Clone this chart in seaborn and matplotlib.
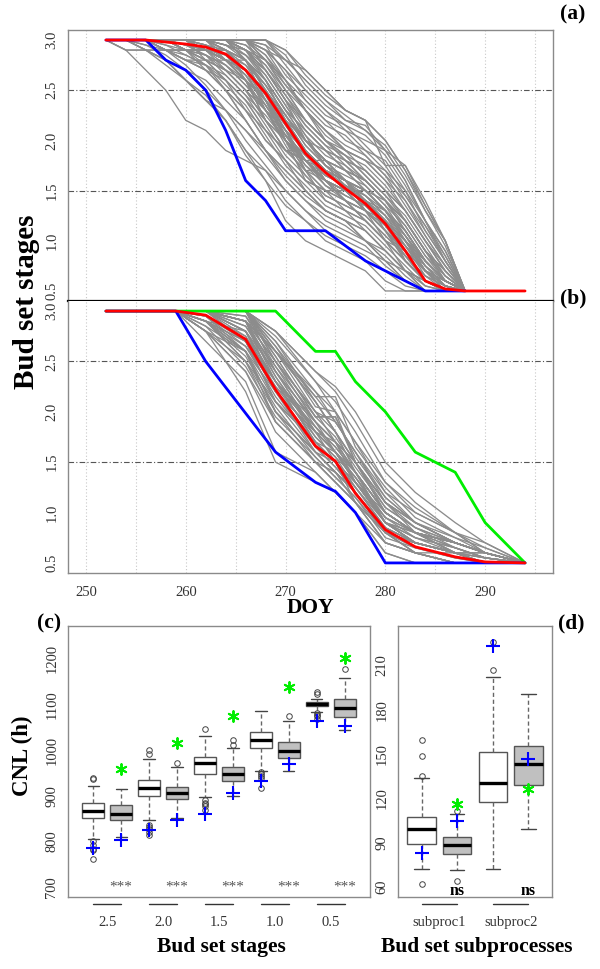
import numpy as np
import pandas as pd
import matplotlib
matplotlib.use("Agg")
import matplotlib.pyplot as plt
import matplotlib.transforms as mtransforms
import seaborn as sns

# ---------------- data: panel (a) ----------------
days_a = [252, 254, 256, 258, 260, 262, 264, 266, 268, 270, 272, 274, 276, 278, 280, 282, 284, 286, 288]
gray_a = [
    [3.0, 3.0, 3.0, 3.0, 3.0, 2.9, 2.8, 2.6, 2.3, 2.0, 1.8, 1.6, 1.5, 1.3, 1.1, 0.9, 0.7, 0.6, 0.5],
    [3.0, 3.0, 3.0, 3.0, 3.0, 3.0, 3.0, 2.9, 2.7, 2.4, 2.1, 1.9, 1.7, 1.6, 1.4, 1.1, 0.8, 0.6, 0.5],
    [3.0, 2.9, 2.9, 2.8, 2.7, 2.6, 2.4, 2.2, 1.9, 1.7, 1.5, 1.3, 1.2, 1.0, 0.8, 0.7, 0.6, 0.5, 0.5],
    [3.0, 3.0, 3.0, 3.0, 3.0, 3.0, 3.0, 3.0, 2.9, 2.6, 2.3, 2.0, 1.8, 1.7, 1.5, 1.3, 1.0, 0.7, 0.5],
    [3.0, 3.0, 3.0, 2.9, 2.8, 2.7, 2.5, 2.3, 2.0, 1.8, 1.6, 1.4, 1.3, 1.2, 1.0, 0.8, 0.6, 0.5, 0.5],
    [3.0, 3.0, 3.0, 3.0, 2.9, 2.9, 2.8, 2.7, 2.5, 2.2, 1.9, 1.7, 1.6, 1.4, 1.2, 0.9, 0.6, 0.5, 0.5],
    [3.0, 3.0, 3.0, 3.0, 3.0, 3.0, 3.0, 3.0, 3.0, 2.8, 2.6, 2.4, 2.2, 2.1, 1.9, 1.6, 1.2, 0.9, 0.5],
    [3.0, 3.0, 2.9, 2.8, 2.6, 2.4, 2.2, 1.9, 1.7, 1.4, 1.2, 1.0, 0.9, 0.8, 0.6, 0.5, 0.5, 0.5, 0.5],
    [3.0, 3.0, 3.0, 3.0, 3.0, 2.9, 2.9, 2.8, 2.6, 2.3, 2.0, 1.8, 1.7, 1.5, 1.3, 1.0, 0.7, 0.5, 0.5],
    [3.0, 3.0, 3.0, 3.0, 2.9, 2.8, 2.6, 2.4, 2.1, 1.8, 1.6, 1.5, 1.4, 1.2, 1.0, 0.8, 0.6, 0.5, 0.5],
    [3.0, 3.0, 3.0, 3.0, 3.0, 3.0, 3.0, 2.9, 2.8, 2.5, 2.2, 2.0, 1.9, 1.8, 1.7, 1.4, 1.1, 0.8, 0.5],
    [3.0, 3.0, 3.0, 3.0, 3.0, 3.0, 2.9, 2.7, 2.4, 2.1, 1.8, 1.7, 1.5, 1.3, 1.1, 0.8, 0.6, 0.5, 0.5],
    [3.0, 3.0, 3.0, 2.9, 2.9, 2.8, 2.7, 2.5, 2.2, 1.9, 1.7, 1.5, 1.4, 1.3, 1.1, 0.9, 0.7, 0.6, 0.5],
    [3.0, 3.0, 3.0, 3.0, 3.0, 3.0, 3.0, 3.0, 2.8, 2.5, 2.3, 2.1, 1.9, 1.7, 1.5, 1.2, 0.9, 0.7, 0.5],
    [3.0, 3.0, 3.0, 3.0, 2.9, 2.8, 2.7, 2.6, 2.4, 2.1, 1.7, 1.5, 1.3, 1.2, 1.0, 0.9, 0.7, 0.6, 0.5],
    [3.0, 3.0, 3.0, 3.0, 3.0, 2.9, 2.8, 2.6, 2.4, 2.2, 2.0, 1.8, 1.6, 1.5, 1.3, 1.1, 0.8, 0.6, 0.5],
    [3.0, 3.0, 3.0, 3.0, 3.0, 3.0, 3.0, 2.9, 2.6, 2.2, 1.9, 1.6, 1.4, 1.2, 1.0, 0.7, 0.5, 0.5, 0.5],
    [3.0, 3.0, 2.9, 2.9, 2.8, 2.7, 2.5, 2.2, 1.9, 1.6, 1.4, 1.2, 1.1, 1.0, 0.8, 0.6, 0.5, 0.5, 0.5],
    [3.0, 3.0, 3.0, 3.0, 3.0, 3.0, 3.0, 3.0, 3.0, 2.9, 2.7, 2.5, 2.3, 2.2, 2.0, 1.7, 1.3, 1.0, 0.5],
    [3.0, 3.0, 3.0, 3.0, 2.9, 2.9, 2.8, 2.7, 2.4, 2.0, 1.8, 1.6, 1.5, 1.4, 1.3, 1.0, 0.7, 0.6, 0.5],
    [3.0, 3.0, 3.0, 2.8, 2.6, 2.4, 2.3, 2.1, 1.9, 1.7, 1.5, 1.3, 1.2, 1.0, 0.9, 0.7, 0.6, 0.5, 0.5],
    [3.0, 3.0, 3.0, 3.0, 3.0, 3.0, 2.9, 2.8, 2.6, 2.3, 2.1, 1.9, 1.8, 1.6, 1.4, 1.2, 0.9, 0.6, 0.5],
    [3.0, 3.0, 3.0, 3.0, 3.0, 3.0, 3.0, 2.8, 2.5, 2.2, 2.0, 1.8, 1.6, 1.4, 1.2, 1.0, 0.7, 0.5, 0.5],
    [3.0, 3.0, 3.0, 3.0, 3.0, 2.9, 2.7, 2.5, 2.2, 2.0, 1.8, 1.6, 1.5, 1.4, 1.2, 1.0, 0.8, 0.6, 0.5],
    [3.0, 3.0, 3.0, 3.0, 3.0, 3.0, 3.0, 3.0, 2.9, 2.7, 2.4, 2.2, 2.0, 1.9, 1.7, 1.5, 1.1, 0.8, 0.5],
    [3.0, 3.0, 3.0, 3.0, 2.9, 2.8, 2.7, 2.5, 2.3, 2.0, 1.7, 1.4, 1.3, 1.1, 0.9, 0.7, 0.6, 0.5, 0.5],
    [3.0, 3.0, 3.0, 3.0, 3.0, 3.0, 2.9, 2.8, 2.5, 2.2, 1.9, 1.7, 1.5, 1.4, 1.2, 1.0, 0.7, 0.5, 0.5],
    [3.0, 3.0, 3.0, 3.0, 3.0, 3.0, 3.0, 2.9, 2.7, 2.4, 2.0, 1.8, 1.7, 1.6, 1.4, 1.1, 0.8, 0.6, 0.5],
    [3.0, 3.0, 3.0, 2.9, 2.8, 2.7, 2.6, 2.4, 2.1, 1.9, 1.7, 1.6, 1.4, 1.3, 1.1, 0.9, 0.6, 0.5, 0.5],
    [3.0, 3.0, 3.0, 3.0, 3.0, 3.0, 3.0, 3.0, 2.8, 2.6, 2.4, 2.2, 2.1, 1.9, 1.8, 1.5, 1.2, 0.8, 0.5],
    [3.0, 3.0, 3.0, 3.0, 3.0, 2.9, 2.8, 2.7, 2.5, 2.2, 1.9, 1.6, 1.5, 1.3, 1.1, 0.9, 0.6, 0.5, 0.5],
    [3.0, 3.0, 3.0, 3.0, 3.0, 3.0, 2.9, 2.7, 2.3, 2.0, 1.8, 1.6, 1.5, 1.3, 1.2, 0.9, 0.7, 0.5, 0.5],
    [3.0, 2.9, 2.9, 2.9, 2.8, 2.8, 2.6, 2.3, 2.0, 1.8, 1.5, 1.3, 1.2, 1.1, 0.9, 0.7, 0.5, 0.5, 0.5],
    [3.0, 3.0, 3.0, 3.0, 3.0, 3.0, 3.0, 2.9, 2.8, 2.6, 2.3, 2.1, 1.9, 1.8, 1.6, 1.3, 1.0, 0.7, 0.5],
    [3.0, 3.0, 3.0, 3.0, 3.0, 2.9, 2.8, 2.6, 2.3, 2.1, 1.9, 1.7, 1.6, 1.5, 1.3, 1.0, 0.8, 0.6, 0.5],
    [3.0, 3.0, 3.0, 3.0, 3.0, 3.0, 3.0, 2.8, 2.6, 2.3, 2.0, 1.9, 1.7, 1.5, 1.3, 1.1, 0.8, 0.6, 0.5],
    [3.0, 3.0, 3.0, 3.0, 2.9, 2.7, 2.5, 2.3, 2.1, 1.9, 1.8, 1.6, 1.4, 1.2, 1.0, 0.8, 0.6, 0.5, 0.5],
    [3.0, 3.0, 3.0, 3.0, 3.0, 3.0, 3.0, 3.0, 2.7, 2.4, 2.2, 2.0, 1.8, 1.6, 1.4, 1.2, 0.9, 0.6, 0.5],
    [3.0, 3.0, 3.0, 3.0, 3.0, 3.0, 2.8, 2.6, 2.4, 2.1, 1.9, 1.7, 1.6, 1.5, 1.4, 1.2, 0.9, 0.7, 0.5],
    [3.0, 3.0, 3.0, 3.0, 3.0, 3.0, 3.0, 3.0, 2.9, 2.7, 2.5, 2.3, 2.1, 2.0, 1.9, 1.6, 1.2, 0.9, 0.5],
    [3.0, 2.9, 2.7, 2.5, 2.2, 2.1, 1.9, 1.8, 1.7, 1.5, 1.3, 1.1, 1.0, 0.9, 0.8, 0.6, 0.5, 0.5, 0.5],
    [3.0, 3.0, 2.9, 2.8, 2.6, 2.4, 2.2, 1.9, 1.6, 1.2, 1.0, 0.9, 0.8, 0.7, 0.5, 0.5, 0.5, 0.5, 0.5],
    [3.0, 3.0, 3.0, 3.0, 3.0, 3.0, 3.0, 3.0, 2.9, 2.8, 2.7, 2.5, 2.3, 2.2, 1.75, 1.75, 1.35, 1.0, 0.5],
    [3.0, 3.0, 3.0, 2.9, 2.9, 2.9, 2.8, 2.6, 2.2, 1.9, 1.8, 1.8, 1.6, 1.4, 1.2, 0.8, 0.6, 0.5, 0.5],
    [3.0, 3.0, 3.0, 3.0, 2.95, 2.9, 2.85, 2.75, 2.55, 2.25, 1.95, 1.75, 1.55, 1.45, 1.25, 1.05, 0.75, 0.55, 0.5],
    [3.0, 3.0, 3.0, 3.0, 3.0, 3.0, 2.95, 2.85, 2.65, 2.35, 2.05, 1.85, 1.75, 1.55, 1.35, 1.15, 0.85, 0.65, 0.5],
    [3.0, 3.0, 3.0, 2.95, 2.9, 2.85, 2.65, 2.45, 2.15, 1.85, 1.65, 1.45, 1.35, 1.25, 1.05, 0.85, 0.65, 0.55, 0.5],
    [3.0, 3.0, 3.0, 3.0, 3.0, 3.0, 3.0, 2.95, 2.75, 2.45, 2.15, 1.95, 1.85, 1.65, 1.45, 1.25, 0.95, 0.65, 0.5],
    [3.0, 3.0, 3.0, 3.0, 3.0, 2.95, 2.85, 2.65, 2.35, 2.05, 1.75, 1.55, 1.45, 1.35, 1.15, 0.95, 0.75, 0.55, 0.5],
    [3.0, 3.0, 3.0, 3.0, 3.0, 3.0, 3.0, 3.0, 2.85, 2.55, 2.35, 2.15, 2.05, 1.85, 1.65, 1.35, 1.05, 0.75, 0.5],
    [3.0, 3.0, 2.95, 2.9, 2.85, 2.75, 2.55, 2.35, 2.05, 1.75, 1.55, 1.35, 1.25, 1.15, 0.95, 0.75, 0.55, 0.5, 0.5],
    [3.0, 3.0, 3.0, 3.0, 3.0, 3.0, 2.9, 2.75, 2.45, 2.15, 1.85, 1.65, 1.55, 1.45, 1.25, 0.95, 0.65, 0.55, 0.5],
    [3.0, 3.0, 3.0, 3.0, 2.95, 2.85, 2.75, 2.55, 2.35, 2.05, 1.85, 1.65, 1.55, 1.35, 1.15, 0.85, 0.65, 0.5, 0.5],
    [3.0, 3.0, 3.0, 3.0, 3.0, 3.0, 3.0, 2.9, 2.65, 2.35, 2.05, 1.75, 1.65, 1.55, 1.35, 1.05, 0.75, 0.55, 0.5],
    [3.0, 3.0, 3.0, 3.0, 3.0, 2.95, 2.8, 2.6, 2.3, 1.95, 1.65, 1.45, 1.35, 1.25, 1.05, 0.85, 0.6, 0.5, 0.5],
    [3.0, 3.0, 3.0, 3.0, 3.0, 3.0, 3.0, 3.0, 2.95, 2.65, 2.45, 2.25, 2.15, 1.95, 1.75, 1.45, 1.15, 0.85, 0.5],
    [3.0, 3.0, 3.0, 2.9, 2.8, 2.75, 2.6, 2.4, 2.2, 2.0, 1.8, 1.6, 1.5, 1.4, 1.2, 1.0, 0.7, 0.55, 0.5],
    [3.0, 3.0, 3.0, 3.0, 3.0, 3.0, 2.95, 2.8, 2.55, 2.25, 2.0, 1.8, 1.7, 1.6, 1.4, 1.2, 0.9, 0.65, 0.5],
    [3.0, 3.0, 3.0, 3.0, 3.0, 2.9, 2.8, 2.7, 2.45, 2.1, 1.8, 1.6, 1.5, 1.3, 1.15, 0.95, 0.7, 0.55, 0.5],
    [3.0, 3.0, 3.0, 3.0, 3.0, 3.0, 3.0, 2.85, 2.6, 2.3, 2.1, 1.9, 1.8, 1.7, 1.5, 1.3, 1.0, 0.7, 0.5],
    [3.0, 3.0, 3.0, 3.0, 2.95, 2.9, 2.8, 2.65, 2.4, 2.05, 1.8, 1.55, 1.4, 1.3, 1.1, 0.85, 0.6, 0.5, 0.5],
    [3.0, 3.0, 3.0, 3.0, 3.0, 3.0, 2.95, 2.9, 2.75, 2.5, 2.2, 2.0, 1.85, 1.75, 1.55, 1.3, 1.0, 0.75, 0.5],
    [3.0, 3.0, 3.0, 3.0, 3.0, 2.95, 2.85, 2.7, 2.5, 2.25, 1.95, 1.75, 1.6, 1.5, 1.3, 1.1, 0.8, 0.6, 0.5],
    [3.0, 3.0, 3.0, 2.95, 2.85, 2.75, 2.65, 2.45, 2.25, 2.0, 1.75, 1.6, 1.45, 1.35, 1.2, 0.95, 0.7, 0.55, 0.5],
    [3.0, 3.0, 3.0, 3.0, 3.0, 3.0, 3.0, 2.95, 2.8, 2.55, 2.3, 2.1, 1.95, 1.85, 1.65, 1.45, 1.15, 0.8, 0.5],
    [3.0, 3.0, 3.0, 3.0, 3.0, 2.95, 2.9, 2.8, 2.55, 2.25, 2.0, 1.75, 1.6, 1.45, 1.3, 1.05, 0.8, 0.6, 0.5],
    [3.0, 3.0, 3.0, 3.0, 3.0, 3.0, 2.85, 2.65, 2.35, 2.05, 1.85, 1.7, 1.6, 1.4, 1.2, 1.0, 0.75, 0.55, 0.5],
    [3.0, 3.0, 3.0, 3.0, 3.0, 3.0, 3.0, 3.0, 2.85, 2.6, 2.3, 2.05, 1.9, 1.8, 1.6, 1.4, 1.05, 0.75, 0.5],
    [3.0, 3.0, 3.0, 3.0, 2.9, 2.85, 2.7, 2.5, 2.3, 2.1, 1.9, 1.7, 1.55, 1.4, 1.25, 1.0, 0.75, 0.6, 0.5],
    [3.0, 3.0, 3.0, 3.0, 3.0, 3.0, 2.95, 2.85, 2.7, 2.4, 2.15, 1.95, 1.75, 1.6, 1.4, 1.15, 0.85, 0.6, 0.5],
    [3.0, 3.0, 3.0, 3.0, 3.0, 3.0, 3.0, 2.9, 2.7, 2.45, 2.2, 2.0, 1.85, 1.65, 1.45, 1.2, 0.9, 0.65, 0.5],
    [3.0, 3.0, 3.0, 3.0, 3.0, 2.9, 2.75, 2.55, 2.3, 2.05, 1.8, 1.65, 1.55, 1.4, 1.2, 1.0, 0.7, 0.55, 0.5],
    [3.0, 3.0, 3.0, 3.0, 3.0, 3.0, 3.0, 3.0, 3.0, 2.75, 2.5, 2.3, 2.15, 2.05, 1.85, 1.55, 1.2, 0.85, 0.5],
    [3.0, 3.0, 3.0, 3.0, 2.95, 2.85, 2.75, 2.6, 2.4, 2.15, 1.9, 1.7, 1.6, 1.5, 1.3, 1.05, 0.8, 0.6, 0.5],
    [3.0, 3.0, 2.9, 2.75, 2.6, 2.45, 2.2, 1.85, 1.6, 1.35, 1.2, 1.05, 0.95, 0.85, 0.7, 0.55, 0.5, 0.5, 0.5],
    [3.0, 3.0, 3.0, 2.9, 2.75, 2.55, 2.3, 2.0, 1.75, 1.5, 1.3, 1.15, 1.05, 0.95, 0.75, 0.6, 0.5, 0.5, 0.5],
    [3.0, 3.0, 2.95, 2.85, 2.7, 2.5, 2.3, 2.1, 1.85, 1.6, 1.4, 1.25, 1.15, 1.0, 0.85, 0.65, 0.5, 0.5, 0.5],
    [3.0, 3.0, 3.0, 3.0, 2.9, 2.75, 2.5, 2.2, 1.9, 1.65, 1.45, 1.3, 1.2, 1.1, 0.9, 0.7, 0.55, 0.5, 0.5],
    [3.0, 3.0, 3.0, 3.0, 3.0, 3.0, 3.0, 3.0, 3.0, 2.9, 2.65, 2.45, 2.3, 2.2, 2.0, 1.7, 1.35, 1.0, 0.5],
    [3.0, 3.0, 3.0, 3.0, 3.0, 3.0, 3.0, 3.0, 2.95, 2.8, 2.6, 2.4, 2.25, 2.1, 1.95, 1.65, 1.3, 0.95, 0.5],
    [3.0, 3.0, 3.0, 3.0, 3.0, 3.0, 3.0, 3.0, 3.0, 2.85, 2.55, 2.35, 2.2, 2.15, 1.9, 1.75, 1.4, 1.0, 0.5],
    [3.0, 3.0, 3.0, 3.0, 3.0, 3.0, 3.0, 2.8, 2.4, 2.0, 1.7, 1.7, 1.6, 1.3, 1.0, 0.8, 0.6, 0.5, 0.5],
    [3.0, 3.0, 3.0, 2.9, 2.9, 2.9, 2.9, 2.6, 2.2, 1.9, 1.9, 1.7, 1.5, 1.5, 1.3, 1.1, 0.8, 0.6, 0.5],
    [3.0, 3.0, 3.0, 3.0, 3.0, 2.8, 2.8, 2.8, 2.5, 2.0, 1.6, 1.5, 1.5, 1.4, 1.1, 0.8, 0.6, 0.5, 0.5],
]
red_a_days = [252, 256, 258, 260, 262, 264, 266, 268, 270, 272, 274, 276, 278, 280, 282, 284, 286, 288, 294]
red_a = [3.0, 3.0, 2.98, 2.96, 2.93, 2.86, 2.70, 2.47, 2.17, 1.87, 1.68, 1.52, 1.37, 1.17, 0.90, 0.60, 0.52, 0.50, 0.50]
blue_a_days = [252, 256, 258, 260, 262, 264, 266, 268, 270, 274, 278, 284, 288]
blue_a = [3.0, 3.0, 2.8, 2.7, 2.5, 2.1, 1.6, 1.4, 1.1, 1.1, 0.8, 0.5, 0.5]

# ---------------- data: panel (b) ----------------
days_b = [259, 262, 266, 269, 273, 275, 277, 280, 283, 287, 290, 294]
gray_b = [
    [3.0, 3.0, 2.8, 2.3, 1.7, 1.5, 1.2, 0.8, 0.7, 0.6, 0.5, 0.5],
    [3.0, 2.9, 2.6, 2.0, 1.5, 1.3, 1.1, 0.7, 0.6, 0.5, 0.5, 0.5],
    [3.0, 3.0, 3.0, 2.6, 2.1, 1.8, 1.5, 1.0, 0.8, 0.7, 0.6, 0.5],
    [3.0, 2.8, 2.4, 1.8, 1.4, 1.2, 1.0, 0.6, 0.5, 0.5, 0.5, 0.5],
    [3.0, 3.0, 2.9, 2.4, 1.9, 1.7, 1.3, 0.9, 0.7, 0.6, 0.5, 0.5],
    [3.0, 3.0, 3.0, 2.8, 2.4, 2.2, 1.9, 1.4, 1.1, 0.8, 0.7, 0.5],
    [3.0, 2.9, 2.7, 2.1, 1.6, 1.4, 1.2, 0.8, 0.6, 0.5, 0.5, 0.5],
    [3.0, 3.0, 2.9, 2.5, 2.0, 1.8, 1.5, 1.1, 0.9, 0.7, 0.6, 0.5],
    [3.0, 2.7, 2.3, 1.6, 1.4, 1.2, 1.0, 0.7, 0.6, 0.5, 0.5, 0.5],
    [3.0, 3.0, 3.0, 2.7, 2.2, 1.9, 1.6, 1.2, 0.9, 0.7, 0.6, 0.5],
    [3.0, 3.0, 2.8, 2.2, 1.8, 1.6, 1.3, 0.9, 0.7, 0.6, 0.5, 0.5],
    [3.0, 2.9, 2.5, 1.9, 1.5, 1.4, 1.2, 0.8, 0.7, 0.6, 0.5, 0.5],
    [3.0, 3.0, 3.0, 2.5, 1.9, 1.6, 1.4, 1.0, 0.8, 0.6, 0.6, 0.5],
    [3.0, 3.0, 2.9, 2.3, 1.7, 1.6, 1.3, 0.9, 0.8, 0.7, 0.6, 0.5],
    [3.0, 2.8, 2.5, 2.0, 1.6, 1.5, 1.3, 0.9, 0.7, 0.6, 0.5, 0.5],
    [3.0, 3.0, 3.0, 2.8, 2.3, 2.0, 1.7, 1.2, 1.0, 0.8, 0.6, 0.5],
    [3.0, 3.0, 2.7, 2.1, 1.7, 1.5, 1.1, 0.7, 0.6, 0.5, 0.5, 0.5],
    [3.0, 2.9, 2.6, 2.2, 1.8, 1.7, 1.4, 1.0, 0.8, 0.6, 0.5, 0.5],
    [3.0, 3.0, 2.9, 2.4, 1.8, 1.5, 1.2, 0.8, 0.6, 0.6, 0.5, 0.5],
    [3.0, 3.0, 3.0, 2.6, 2.0, 1.9, 1.6, 1.1, 0.9, 0.7, 0.6, 0.5],
    [3.0, 2.8, 2.4, 1.9, 1.5, 1.3, 1.1, 0.8, 0.7, 0.6, 0.5, 0.5],
    [3.0, 3.0, 2.8, 2.4, 1.9, 1.7, 1.4, 0.9, 0.7, 0.6, 0.5, 0.5],
    [3.0, 3.0, 3.0, 2.7, 2.1, 1.8, 1.4, 1.0, 0.8, 0.6, 0.5, 0.5],
    [3.0, 2.9, 2.7, 2.3, 1.8, 1.6, 1.3, 0.9, 0.8, 0.7, 0.6, 0.5],
    [3.0, 3.0, 2.9, 2.2, 1.6, 1.4, 1.2, 0.8, 0.7, 0.6, 0.5, 0.5],
    [3.0, 2.9, 2.5, 2.1, 1.7, 1.5, 1.2, 0.8, 0.6, 0.5, 0.5, 0.5],
    [3.0, 3.0, 3.0, 2.6, 2.2, 2.0, 1.7, 1.3, 1.0, 0.8, 0.6, 0.5],
    [3.0, 3.0, 2.8, 2.3, 1.7, 1.5, 1.3, 1.0, 0.8, 0.7, 0.6, 0.5],
    [3.0, 2.8, 2.6, 2.0, 1.6, 1.4, 1.1, 0.7, 0.6, 0.5, 0.5, 0.5],
    [3.0, 3.0, 2.9, 2.5, 2.0, 1.7, 1.5, 1.1, 0.8, 0.7, 0.6, 0.5],
    [3.0, 3.0, 3.0, 2.4, 1.8, 1.6, 1.4, 0.9, 0.7, 0.6, 0.5, 0.5],
    [3.0, 2.9, 2.6, 1.9, 1.5, 1.3, 1.1, 0.8, 0.7, 0.6, 0.6, 0.5],
    [3.0, 3.0, 2.9, 2.6, 2.1, 1.8, 1.5, 1.0, 0.8, 0.6, 0.5, 0.5],
    [3.0, 3.0, 2.7, 2.2, 1.7, 1.5, 1.3, 0.9, 0.7, 0.6, 0.5, 0.5],
    [3.0, 2.9, 2.8, 2.3, 1.9, 1.7, 1.4, 1.0, 0.8, 0.7, 0.6, 0.5],
    [3.0, 3.0, 3.0, 2.5, 1.9, 1.7, 1.5, 1.1, 0.9, 0.7, 0.6, 0.5],
    [3.0, 2.8, 2.2, 1.5, 1.3, 1.2, 1.0, 0.6, 0.5, 0.5, 0.5, 0.5],
    [3.0, 3.0, 3.0, 2.8, 2.4, 2.25, 2.0, 1.5, 1.2, 0.9, 0.7, 0.5],
    [3.0, 3.0, 2.85, 2.35, 1.8, 1.6, 1.35, 0.95, 0.75, 0.65, 0.55, 0.5],
    [3.0, 2.95, 2.65, 2.15, 1.65, 1.45, 1.25, 0.85, 0.7, 0.6, 0.55, 0.5],
    [3.0, 3.0, 2.95, 2.55, 1.95, 1.95, 1.55, 1.15, 0.9, 0.7, 0.6, 0.5],
    [3.0, 2.9, 2.55, 2.05, 1.55, 1.35, 1.15, 0.75, 0.65, 0.55, 0.5, 0.5],
    [3.0, 3.0, 3.0, 2.65, 2.15, 2.15, 1.65, 1.25, 0.95, 0.75, 0.65, 0.5],
    [3.0, 3.0, 2.85, 2.45, 1.95, 1.75, 1.45, 1.05, 0.85, 0.65, 0.55, 0.5],
    [3.0, 2.85, 2.45, 1.95, 1.55, 1.35, 1.15, 0.8, 0.7, 0.6, 0.5, 0.5],
    [3.0, 3.0, 2.9, 2.35, 1.75, 1.55, 1.25, 0.85, 0.7, 0.6, 0.55, 0.5],
    [3.0, 3.0, 3.0, 2.75, 2.3, 2.1, 1.8, 1.3, 1.05, 0.8, 0.65, 0.5],
    [3.0, 2.95, 2.75, 2.25, 1.75, 1.55, 1.35, 0.95, 0.8, 0.65, 0.55, 0.5],
    [3.0, 3.0, 2.8, 2.2, 1.65, 1.45, 1.2, 0.8, 0.65, 0.55, 0.5, 0.5],
    [3.0, 2.9, 2.65, 2.25, 1.85, 1.65, 1.4, 1.0, 0.8, 0.7, 0.6, 0.5],
    [3.0, 3.0, 2.95, 2.45, 1.85, 1.65, 1.4, 1.0, 0.8, 0.65, 0.55, 0.5],
    [3.0, 2.95, 2.6, 2.0, 1.6, 1.4, 1.2, 0.85, 0.7, 0.6, 0.55, 0.5],
    [3.0, 3.0, 3.0, 2.55, 1.95, 1.95, 1.5, 1.1, 0.85, 0.7, 0.6, 0.5],
    [3.0, 3.0, 2.75, 2.3, 1.85, 1.6, 1.35, 0.9, 0.75, 0.65, 0.55, 0.5],
    [3.0, 2.85, 2.6, 2.1, 1.7, 1.5, 1.25, 0.9, 0.75, 0.6, 0.5, 0.5],
    [3.0, 3.0, 2.9, 2.6, 2.15, 1.9, 1.6, 1.15, 0.9, 0.75, 0.6, 0.5],
    [3.0, 3.0, 3.0, 2.65, 2.05, 2.0, 1.5, 1.05, 0.85, 0.7, 0.6, 0.5],
    [3.0, 2.95, 2.7, 2.2, 1.8, 1.6, 1.3, 0.95, 0.8, 0.7, 0.6, 0.5],
]
red_b_days = [252, 259, 262, 266, 269, 273, 275, 277, 280, 283, 287, 290, 294]
red_b = [3.0, 3.0, 2.96, 2.72, 2.22, 1.66, 1.51, 1.19, 0.83, 0.66, 0.56, 0.51, 0.50]
blue_b_days = [252, 259, 262, 269, 273, 275, 277, 280, 294]
blue_b = [3.0, 3.0, 2.5, 1.6, 1.3, 1.21, 1.0, 0.5, 0.5]
green_b_days = [252, 269, 273, 275, 277, 280, 283, 287, 290, 294]
green_b = [3.0, 3.0, 2.6, 2.6, 2.3, 2.0, 1.6, 1.4, 0.9, 0.5]

# ---------------- data: panel (c) ----------------
stage_labels = ["2.5", "2.0", "1.5", "1.0", "0.5"]
cnl_med = [867, 860, 916, 906, 971, 948, 1023, 998, 1101, 1093]
cnl_q1 = [851, 846, 899, 892, 948, 933, 1004, 983, 1097, 1073]
cnl_q3 = [884, 879, 934, 920, 984, 962, 1039, 1018, 1106, 1112]
cnl_lo = [805, 810, 846, 852, 897, 900, 955, 955, 1084, 1044]
cnl_hi = [922, 915, 981, 962, 1031, 1004, 1086, 1063, 1113, 1159]
cnl_fliers = [
    [939, 936, 800, 793, 784, 780, 762],
    [],
    [1001, 992, 836, 831, 826, 820, 814],
    [972],
    [1047, 890, 885, 882, 878, 869],
    [1022, 1011],
    [951, 947, 944, 938, 916],
    [1075],
    [1127, 1122, 1081, 1077, 1074, 1068],
    [1178],
]
cnl_blue = [786, 802, 824, 846, 860, 906, 933, 969, 1063, 1053]
cnl_green = [958, 1015, 1075, 1138, 1201]

# ---------------- data: panel (d) ----------------
sub_labels = ["subproc1", "subproc2"]
sub_med = [99.0, 88.5, 130.7, 143.6]
sub_q1 = [88.9, 82.4, 117.6, 129.1]
sub_q3 = [107.2, 93.7, 151.7, 155.8]
sub_lo = [72.2, 71.3, 72.2, 99.3]
sub_hi = [133.9, 109.3, 202.1, 190.6]
sub_fliers = [[159.6, 149.0, 135.2, 62.0], [111.5, 64.3], [207.1, 226.2], []]
sub_blue = [82.8, 104.9, 223.5, 146.7]
sub_green = [116.0, 126.2]

# ---------------- style ----------------
sns.set_style("white")
plt.rcParams["font.family"] = ["Liberation Serif", "DejaVu Serif"]
SPINE = "#8a8a8a"
TXT = "#333333"
GRAY_LINE = "#8c8c8c"

fig = plt.figure(figsize=(6.0, 9.69), dpi=100)
W, H = 600.0, 969.0


def ax_px(l, t, r, b):
    return fig.add_axes([l / W, 1 - b / H, (r - l) / W, (b - t) / H])


ax_a = ax_px(68, 30, 553, 301)
ax_b = ax_px(68, 301, 553, 573)
ax_c = ax_px(68, 626, 370, 897)
ax_d = ax_px(398, 626, 552, 897)


def long_df(days, lines):
    rows = []
    for i, vals in enumerate(lines):
        for d, v in zip(days, vals):
            rows.append((i, d, v))
    return pd.DataFrame(rows, columns=["plant", "DOY", "stage"])


def stage_panel(ax, days, lines, extra):
    for x in range(250, 300, 5):
        ax.axvline(x, color="#c8c8c8", ls=(0, (1, 2)), lw=0.8, zorder=0)
    for yv in (2.5, 1.5):
        ax.axhline(yv, color="#555555", ls=(0, (5, 2, 1, 2)), lw=0.8, zorder=1)
    sns.lineplot(data=long_df(days, lines), x="DOY", y="stage", units="plant",
                 estimator=None, color=GRAY_LINE, lw=0.95, ax=ax, legend=False, zorder=2)
    for dd, vv, col in extra:
        sns.lineplot(x=dd, y=vv, color=col, lw=2.0, ax=ax, estimator=None, zorder=3)
    ax.set_xlim(248.2, 296.8)
    ax.set_ylim(0.4, 3.1)
    ax.set_yticks([0.5, 1.0, 1.5, 2.0, 2.5, 3.0])
    ax.set_yticklabels(["0.5", "1.0", "1.5", "2.0", "2.5", "3.0"], rotation=90, va="center")
    ax.set_xlabel("")
    ax.set_ylabel("")
    for s in ax.spines.values():
        s.set_color(SPINE)
        s.set_linewidth(1.0)
    ax.tick_params(axis="both", colors=SPINE, labelcolor=TXT, labelsize=10.5,
                   length=5, width=0.8, direction="out", pad=2)


stage_panel(ax_a, days_a, gray_a,
            [(blue_a_days, blue_a, "#0000ff"), (red_a_days, red_a, "#ff0000")])
stage_panel(ax_b, days_b, gray_b,
            [(green_b_days, green_b, "#00ee00"), (blue_b_days, blue_b, "#0000ff"),
             (red_b_days, red_b, "#ff0000")])

ax_a.set_xticks([])
ax_a.spines["bottom"].set_color("black")
ax_a.spines["bottom"].set_linewidth(1.6)
ax_b.spines["top"].set_visible(False)
ax_b.set_xticks([250, 260, 270, 280, 290])
ax_b.set_xticklabels(["250", "260", "270", "280", "290"])
ax_b.tick_params(axis="x", pad=4)


def box_panel(ax, med, q1, q3, lo, hi, fliers, ylim, xlim):
    n = len(med)
    stats = []
    for i in range(n):
        stats.append(dict(med=med[i], q1=q1[i], q3=q3[i], whislo=lo[i], whishi=hi[i],
                          fliers=fliers[i]))
    pos = list(range(1, n + 1))
    bp = ax.bxp(stats, positions=pos, widths=0.8, patch_artist=True,
                boxprops=dict(edgecolor="#555555", linewidth=1.0),
                medianprops=dict(color="black", linewidth=2.4),
                whiskerprops=dict(color="#666666", linestyle=(0, (3, 2)), linewidth=1.0),
                capprops=dict(color="#444444", linewidth=1.0),
                flierprops=dict(marker="o", markersize=4, markerfacecolor="none",
                                markeredgecolor="#444444", markeredgewidth=0.7))
    for i, patch in enumerate(bp["boxes"]):
        patch.set_facecolor("white" if i % 2 == 0 else "#c0c0c0")
    for cap in bp["caps"]:
        xd = cap.get_xdata()
        c = (xd[0] + xd[1]) / 2
        cap.set_xdata([c - 0.2, c + 0.2])
    ax.set_ylim(*ylim)
    ax.set_xlim(*xlim)
    for s in ax.spines.values():
        s.set_color(SPINE)
        s.set_linewidth(1.0)
    ax.tick_params(axis="y", colors=SPINE, labelcolor=TXT, labelsize=10.5,
                   length=5, width=0.8, direction="out", pad=2)
    ax.tick_params(axis="x", length=0, labelcolor=TXT, labelsize=10.5, pad=14)
    trans = mtransforms.blended_transform_factory(ax.transData, ax.transAxes)
    for k in range(n // 2):
        ax.plot([2 * k + 1, 2 * k + 2], [-0.026, -0.026], color="#333333", lw=1.0,
                transform=trans, clip_on=False)
    ax.set_xticks([2 * k + 1.5 for k in range(n // 2)])
    return pos


pos_c = box_panel(ax_c, cnl_med, cnl_q1, cnl_q3, cnl_lo, cnl_hi, cnl_fliers,
                  (678, 1272), (0.1, 10.9))
ax_c.set_yticks([700, 800, 900, 1000, 1100, 1200])
ax_c.set_yticklabels(["700", "800", "900", "1000", "1100", "1200"], rotation=90, va="center")
ax_c.set_xticklabels(stage_labels)
sns.scatterplot(x=pos_c, y=cnl_blue, marker="+", s=90, color="#0000ff", linewidth=1.5, ax=ax_c, zorder=5)
sns.scatterplot(x=pos_c[1::2], y=cnl_green, marker=(6, 2, 0), s=60, color="#00ee00", linewidth=1.4,
                ax=ax_c, zorder=5)
for p in pos_c[1::2]:
    ax_c.text(p, 700, "***", ha="center", va="center", fontsize=11, color="#555555")

pos_d = box_panel(ax_d, sub_med, sub_q1, sub_q3, sub_lo, sub_hi, sub_fliers,
                  (53.2, 236.8), (0.34, 4.66))
ax_d.set_yticks([60, 90, 120, 150, 180, 210])
ax_d.set_yticklabels(["60", "90", "120", "150", "180", "210"], rotation=90, va="center")
ax_d.set_xticklabels(sub_labels)
sns.scatterplot(x=pos_d, y=sub_blue, marker="+", s=90, color="#0000ff", linewidth=1.5, ax=ax_d, zorder=5)
sns.scatterplot(x=pos_d[1::2], y=sub_green, marker=(6, 2, 0), s=60, color="#00ee00", linewidth=1.4,
                ax=ax_d, zorder=5)
for p in pos_d[1::2]:
    ax_d.text(p, 57.5, "ns", ha="center", va="center", fontsize=11.5, fontweight="bold", color="black")

for ax in (ax_c, ax_d):
    ax.set_xlabel("")
    ax.set_ylabel("")

# ---------------- labels ----------------
def ftext(x, y, s, size, rot=0):
    fig.text(x / W, 1 - y / H, s, ha="center", va="center", fontsize=size,
             fontweight="bold", rotation=rot, color="black")


ftext(27, 302, "Bud set stages", 21, 90)
ftext(310, 608, "DOY", 15.5)
ftext(22, 756, "CNL (h)", 16.5, 90)
ftext(221, 947, "Bud set stages", 15.5)
ftext(477, 947, "Bud set subprocesses", 15.5)
ftext(573, 14, "(a)", 15.5)
ftext(573, 298, "(b)", 15.5)
ftext(49, 623, "(c)", 15.5)
ftext(571, 623, "(d)", 15.5)

fig.savefig("out.png", dpi=100)
